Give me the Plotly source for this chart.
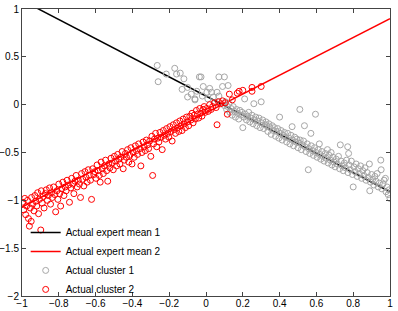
import plotly.graph_objects as go

# Expert mean lines (endpoints)
line_x = [-1.0, 1.0]
mean1_y = [1.09, -0.91]
mean2_y = [-1.07, 0.90]

# Cluster 1 (gray) points
c1 = [
    (-0.265, 0.41), (-0.26, 0.24), (-0.216, 0.32), (-0.17, 0.38), (-0.16, 0.32), (-0.14, 0.33),
    (-0.12, 0.27), (-0.13, 0.16), (-0.10, 0.18), (-0.10, 0.08), (-0.08, 0.11), (-0.06, 0.05),
    (-0.036, 0.29), (-0.027, 0.29), (-0.015, 0.19), (0.005, 0.13), (0.03, 0.13), (0.06, 0.13),
    (0.07, 0.29), (0.10, 0.29), (0.09, 0.19), (0.04, 0.08), (-0.06, 0.06), (0.07, 0.09),
    (-0.05, 0.14), (-0.02, 0.09), (0.01, 0.06), (0.02, 0.17), (0.12, 0.20), (0.05, 0.02),
    (0.100, -0.01), (0.106, 0.03), (0.112, -0.05), (0.118, -0.02), (0.124, 0.01), (0.130, -0.08),
    (0.136, -0.04), (0.142, -0.11), (0.148, -0.02), (0.154, -0.07), (0.160, -0.13), (0.166, -0.05),
    (0.172, -0.09), (0.178, -0.15), (0.184, -0.06), (0.190, -0.11), (0.196, -0.08), (0.200, -0.24),
    (0.206, -0.13), (0.210, 0.06), (0.214, -0.10), (0.220, -0.16), (0.226, -0.12), (0.232, -0.08),
    (0.238, -0.18), (0.244, -0.14), (0.250, -0.11), (0.256, -0.20), (0.260, 0.01), (0.264, -0.16),
    (0.270, -0.13), (0.276, -0.22), (0.282, -0.17), (0.288, -0.14), (0.294, -0.24), (0.300, 0.03),
    (0.302, -0.19), (0.308, -0.16), (0.314, -0.25), (0.320, -0.21), (0.326, -0.18), (0.330, -0.22),
    (0.336, -0.28), (0.342, -0.20), (0.348, -0.24), (0.354, -0.31), (0.360, -0.22), (0.366, -0.27),
    (0.372, -0.24), (0.378, -0.33), (0.384, -0.28), (0.390, -0.25), (0.396, -0.35), (0.400, -0.13),
    (0.402, -0.30), (0.408, -0.27), (0.414, -0.37), (0.420, -0.32), (0.426, -0.29), (0.432, -0.34),
    (0.438, -0.39), (0.444, -0.30), (0.450, -0.35), (0.456, -0.41), (0.462, -0.32), (0.468, -0.23),
    (0.470, -0.37), (0.476, -0.43), (0.482, -0.34), (0.488, -0.39), (0.494, -0.36), (0.500, -0.45),
    (0.506, -0.40), (0.510, -0.05), (0.512, -0.37), (0.518, -0.47), (0.524, -0.42), (0.530, -0.38),
    (0.535, -0.22), (0.538, -0.44), (0.544, -0.49), (0.550, -0.41), (0.556, -0.68), (0.558, -0.46),
    (0.564, -0.51), (0.570, -0.30), (0.572, -0.43), (0.578, -0.48), (0.584, -0.53), (0.590, -0.45),
    (0.595, -0.10), (0.598, -0.50), (0.604, -0.55), (0.610, -0.47), (0.616, -0.41), (0.618, -0.52),
    (0.624, -0.57), (0.630, -0.49), (0.636, -0.54), (0.642, -0.59), (0.648, -0.51), (0.654, -0.56),
    (0.660, -0.47), (0.664, -0.61), (0.670, -0.53), (0.676, -0.58), (0.680, -0.50), (0.684, -0.63),
    (0.690, -0.55), (0.696, -0.60), (0.702, -0.65), (0.708, -0.57), (0.714, -0.62), (0.720, -0.54),
    (0.726, -0.67), (0.730, -0.42), (0.734, -0.59), (0.740, -0.64), (0.746, -0.69), (0.752, -0.61),
    (0.758, -0.66), (0.764, -0.58), (0.770, -0.44), (0.772, -0.71), (0.775, -0.51), (0.778, -0.63),
    (0.784, -0.68), (0.790, -0.59), (0.796, -0.73), (0.800, -0.86), (0.804, -0.65), (0.810, -0.70),
    (0.816, -0.62), (0.822, -0.75), (0.828, -0.67), (0.834, -0.72), (0.840, -0.64), (0.846, -0.77),
    (0.852, -0.69), (0.858, -0.74), (0.864, -0.66), (0.870, -0.79), (0.876, -0.71), (0.882, -0.76),
    (0.888, -0.62), (0.890, -0.90), (0.894, -0.81), (0.900, -0.73), (0.906, -0.78), (0.912, -0.84),
    (0.918, -0.75), (0.924, -0.80), (0.930, -0.72), (0.936, -0.86), (0.942, -0.82), (0.950, -0.58),
    (0.952, -0.68), (0.956, -0.88), (0.962, -0.83), (0.968, -0.79), (0.975, -0.77), (0.978, -0.91),
    (0.984, -0.86), (0.990, -0.94), (0.995, -0.89), (1.000, -0.98),
]
cluster1_x = [p[0] for p in c1]
cluster1_y = [p[1] for p in c1]

# Cluster 2 (red) points
c2 = [
    (-0.995, -1.02), (-0.99, -1.10), (-0.985, -0.98), (-0.98, -1.15), (-0.975, -1.06), (-0.97, -1.00),
    (-0.965, -1.19), (-0.96, -1.27), (-0.955, -1.08), (-0.95, -1.22), (-0.948, -0.97), (-0.942, -1.04),
    (-0.935, -1.11), (-0.93, -0.95), (-0.925, -1.01), (-0.92, -1.06), (-0.915, -0.92), (-0.91, -1.14),
    (-0.905, -0.99), (-0.898, -1.31), (-0.895, -0.90), (-0.89, -1.03), (-0.885, -0.96), (-0.88, -1.08),
    (-0.873, -0.93), (-0.868, -0.89), (-0.862, -1.00), (-0.857, -0.95), (-0.85, -0.87), (-0.845, -1.04),
    (-0.84, -0.92), (-0.835, -0.97), (-0.828, -0.86), (-0.822, -0.94), (-0.817, -1.12), (-0.81, -0.90),
    (-0.805, -0.99), (-0.80, -0.83), (-0.795, -0.93), (-0.79, -1.06), (-0.784, -0.88), (-0.778, -0.81),
    (-0.772, -0.95), (-0.765, -0.86), (-0.76, -0.90), (-0.755, -0.79), (-0.748, -0.84), (-0.742, -1.02),
    (-0.735, -0.87), (-0.73, -0.77), (-0.724, -0.83), (-0.718, -0.93), (-0.712, -0.80), (-0.706, -0.74),
    (-0.70, -0.86), (-0.694, -0.79), (-0.688, -0.83), (-0.682, -0.97), (-0.676, -0.72), (-0.67, -0.78),
    (-0.664, -0.85), (-0.658, -0.70), (-0.652, -0.76), (-0.646, -0.81), (-0.64, -0.68), (-0.634, -0.74),
    (-0.628, -0.79), (-0.622, -0.99), (-0.616, -0.67), (-0.61, -0.73), (-0.604, -0.70), (-0.598, -0.77),
    (-0.592, -0.63), (-0.586, -0.69), (-0.58, -0.74), (-0.575, -0.81), (-0.57, -0.60), (-0.564, -0.67),
    (-0.558, -0.72), (-0.552, -0.64), (-0.546, -0.58), (-0.54, -0.69), (-0.534, -0.80), (-0.528, -0.62),
    (-0.522, -0.66), (-0.516, -0.56), (-0.51, -0.61), (-0.504, -0.68), (-0.498, -0.54), (-0.492, -0.59),
    (-0.486, -0.64), (-0.48, -0.52), (-0.474, -0.57), (-0.468, -0.62), (-0.462, -0.55), (-0.456, -0.49),
    (-0.45, -0.67), (-0.444, -0.58), (-0.438, -0.51), (-0.432, -0.55), (-0.426, -0.47), (-0.42, -0.60),
    (-0.414, -0.53), (-0.408, -0.45), (-0.402, -0.62), (-0.396, -0.50), (-0.39, -0.55), (-0.384, -0.43),
    (-0.378, -0.48), (-0.372, -0.52), (-0.366, -0.41), (-0.36, -0.46), (-0.354, -0.64), (-0.348, -0.50),
    (-0.342, -0.39), (-0.336, -0.44), (-0.33, -0.48), (-0.324, -0.37), (-0.318, -0.42), (-0.312, -0.46),
    (-0.306, -0.38), (-0.30, -0.54), (-0.294, -0.33), (-0.29, -0.74), (-0.285, -0.41), (-0.28, -0.36),
    (-0.274, -0.30), (-0.268, -0.44), (-0.262, -0.35), (-0.256, -0.39), (-0.25, -0.29), (-0.244, -0.34),
    (-0.238, -0.47), (-0.232, -0.27), (-0.226, -0.32), (-0.22, -0.36), (-0.214, -0.25), (-0.208, -0.30),
    (-0.202, -0.34), (-0.196, -0.23), (-0.19, -0.28), (-0.184, -0.38), (-0.178, -0.21), (-0.172, -0.26),
    (-0.166, -0.30), (-0.16, -0.19), (-0.154, -0.24), (-0.148, -0.28), (-0.142, -0.17), (-0.136, -0.22),
    (-0.13, -0.27), (-0.124, -0.15), (-0.118, -0.20), (-0.112, -0.24), (-0.106, -0.13), (-0.10, -0.18),
    (-0.094, -0.22), (-0.088, -0.12), (-0.082, -0.16), (-0.076, -0.09), (-0.07, -0.19), (-0.064, -0.11),
    (-0.058, -0.15), (-0.052, -0.06), (-0.046, -0.10), (-0.04, -0.14), (-0.034, -0.04), (-0.028, -0.09),
    (-0.022, -0.12), (-0.016, -0.05), (-0.01, -0.02), (-0.004, -0.08), (0.004, -0.04), (0.012, -0.07),
    (0.02, 0.00), (0.028, -0.05), (0.036, -0.02), (0.045, 0.02), (0.055, -0.03), (0.06, -0.21),
    (0.068, 0.03), (0.08, 0.01), (0.09, 0.04), (0.105, 0.02), (0.116, -0.10), (0.127, 0.11),
    (0.143, 0.05), (0.17, 0.12), (0.18, 0.14), (0.20, 0.15), (0.25, 0.14), (0.25, 0.18), (0.30, 0.19),
]
cluster2_x = [p[0] for p in c2]
cluster2_y = [p[1] for p in c2]

x_ticks = [-1, -0.8, -0.6, -0.4, -0.2, 0, 0.2, 0.4, 0.6, 0.8, 1]
y_ticks = [-2, -1.5, -1, -0.5, 0, 0.5, 1]

GRAY = "#a6a6a6"
RED = "#ff0000"
FONT = "Liberation Sans, Arial, sans-serif"

fig = go.Figure()
fig.add_trace(go.Scatter(x=line_x, y=mean1_y, mode="lines", name="Actual expert mean 1",
                         line=dict(color="black", width=1.5)))
fig.add_trace(go.Scatter(x=line_x, y=mean2_y, mode="lines", name="Actual expert mean 2",
                         line=dict(color=RED, width=1.5)))
fig.add_trace(go.Scatter(x=cluster1_x, y=cluster1_y, mode="markers", name="Actual cluster 1",
                         marker=dict(symbol="circle-open", size=6, color=GRAY, line=dict(width=1))))
fig.add_trace(go.Scatter(x=cluster2_x, y=cluster2_y, mode="markers", name="Actual cluster 2",
                         marker=dict(symbol="circle-open", size=6, color=RED, line=dict(width=1))))

axis_common = dict(showgrid=False, zeroline=False, ticks="inside", ticklen=4, tickwidth=1,
                   tickcolor="#444", showline=True, linecolor="#444", linewidth=1, mirror="ticks",
                   automargin=False,
                   tickfont=dict(family=FONT, size=10, color="black"))

fig.update_layout(
    width=398, height=311,
    margin=dict(l=22, r=8, t=9, b=14),
    plot_bgcolor="white", paper_bgcolor="white",
    xaxis=dict(range=[-1.00001, 1.00001], tickvals=x_ticks, ticklabelstandoff=-2, **axis_common),
    yaxis=dict(range=[-2.00001, 1.00001], tickvals=y_ticks, **axis_common),
    legend=dict(x=0.01, y=-0.024, xanchor="left", yanchor="bottom", bgcolor="rgba(0,0,0,0)",
                font=dict(family=FONT, size=10, color="black"),
                tracegroupgap=0, itemwidth=30),
    showlegend=True,
)

fig.write_html("out.html", config={"displayModeBar": False},
               post_script="document.body.style.margin='0';")
